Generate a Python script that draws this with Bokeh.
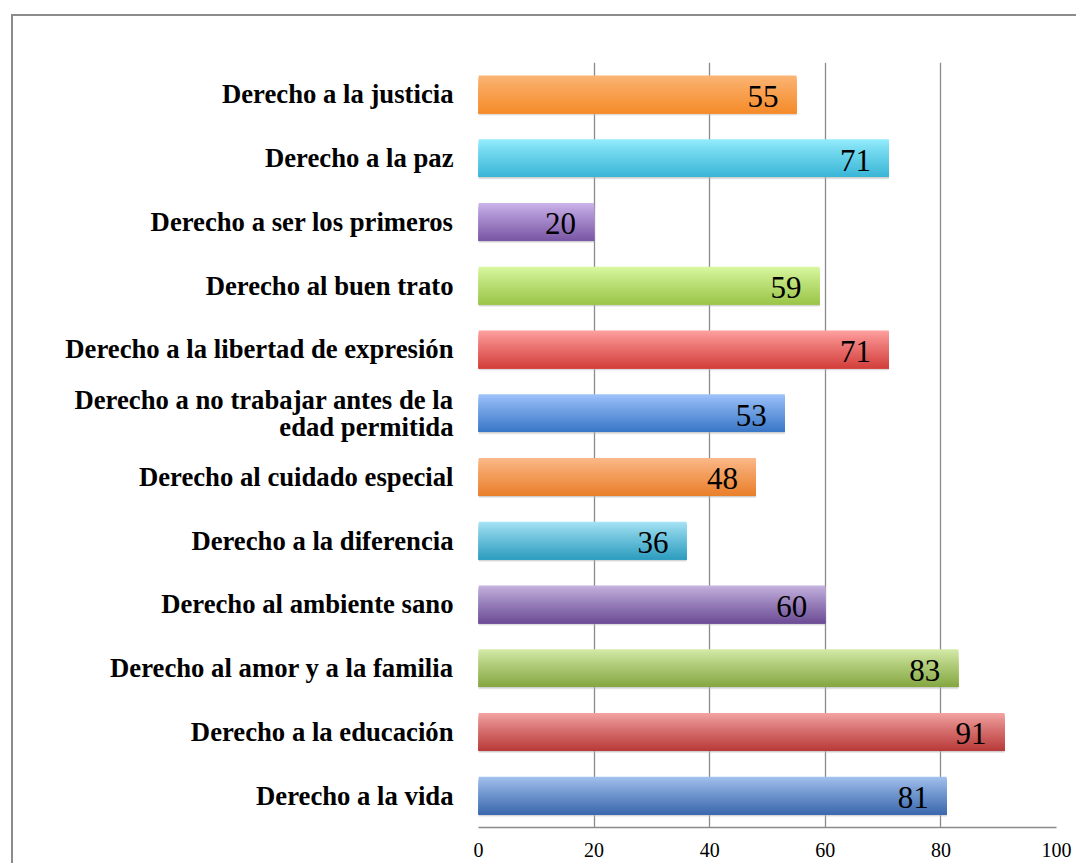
from bokeh.plotting import figure
from bokeh.models import ColumnDataSource, FactorRange, Range1d
from bokeh.transform import dodge
from bokeh.core.properties import value
from bokeh.embed import file_html
from bokeh.resources import INLINE

# ---- data (bottom to top) ----
categories = [
    "Derecho a la vida",
    "Derecho a la educación",
    "Derecho al amor y a la familia",
    "Derecho al ambiente sano",
    "Derecho a la diferencia",
    "Derecho al cuidado especial",
    "Derecho a no trabajar antes de la\nedad permitida",
    "Derecho a la libertad de expresión",
    "Derecho al buen trato",
    "Derecho a ser los primeros",
    "Derecho a la paz",
    "Derecho a la justicia",
]
values = [81, 91, 83, 60, 36, 48, 53, 71, 59, 20, 71, 55]
x_ticks = [0, 20, 40, 60, 80, 100]

# ---- style: gradient top / bottom colours per bar ----
top_colors = ["#A3C1EE", "#F2A3A2", "#D4EAA8", "#C4B2DE", "#A6E3F5", "#FBB98A",
              "#9EC3FA", "#FFA0A0", "#D9F7A0", "#CBB3EA", "#93ECFC", "#FBB575"]
bot_colors = ["#3D6AAE", "#B93C3A", "#86A843", "#6E4F97", "#2F9EC0", "#E9802C",
              "#3C78C8", "#D3413D", "#9BC64A", "#7A58A6", "#3BB6D7", "#F58C2C"]


def hex2rgb(h):
    h = h.lstrip("#")
    return tuple(int(h[i:i + 2], 16) for i in (0, 2, 4))


def mix(a, b, t):
    ra, rb = hex2rgb(a), hex2rgb(b)
    return "#%02x%02x%02x" % tuple(int(round(ra[i] + (rb[i] - ra[i]) * t)) for i in range(3))


BAR_H = 0.59
N = 30

data = dict(cat=categories, val=values, lab=[str(v) for v in values])
for i in range(N):
    t = i / (N - 1)  # 0 at top, 1 at bottom
    tt = t ** 0.9
    data["c%d" % i] = [mix(tc, bc, tt) for tc, bc in zip(top_colors, bot_colors)]
src = ColumnDataSource(data)

W, H = 1076, 863
p = figure(
    width=W, height=H,
    y_range=FactorRange(*categories),
    x_range=Range1d(0, 100),
    output_backend="svg", toolbar_location=None,
    min_border_left=478, min_border_right=W - 1056,
    min_border_top=62, min_border_bottom=H - 827,
    stylesheets=[":host::after { content: ''; position: absolute; left: 11px; top: 14px;"
                 " right: 0px; bottom: 0px; border-left: 2px solid #8c8c8c;"
                 " border-top: 2px solid #8c8c8c; pointer-events: none; }"],
)
p.outline_line_color = None
p.background_fill_color = "white"
p.border_fill_color = "white"

# grid
p.xgrid.ticker = x_ticks
p.xgrid.grid_line_color = "#8a8a8a"
p.xgrid.grid_line_width = 1.3
p.ygrid.grid_line_color = None

# shadow
p.hbar(y=dodge("cat", -0.035, range=p.y_range), right="val", left=0,
       height=BAR_H, source=src, fill_color="#bdbdbd", fill_alpha=0.35, line_color=None)
p.hbar(y=dodge("cat", -0.02, range=p.y_range), right="val", left=0,
       height=BAR_H, source=src, fill_color="#a0a0a0", fill_alpha=0.35, line_color=None)

# gradient bars: nested bars anchored at the bar bottom, progressively shorter
bottom = -BAR_H / 2
for i in range(N):
    hh = BAR_H * (1 - i / N)
    off = bottom + hh / 2
    p.hbar(y=dodge("cat", off, range=p.y_range), right="val", left=0,
           height=hh, source=src, fill_color="c%d" % i, line_color=None)

# value labels
p.text(x="val", y="cat", text="lab", source=src, x_offset=-18, y_offset=2,
       text_align="right", text_baseline="middle",
       text_font=value("Liberation Serif"), text_font_size="31px", text_color="black")

# axes
p.xaxis.ticker = x_ticks
p.xaxis.axis_line_color = "#8a8a8a"
p.xaxis.axis_line_width = 1.3
p.xaxis.major_tick_line_color = None
p.xaxis.minor_tick_line_color = None
p.xaxis.major_tick_out = 0
p.xaxis.major_label_standoff = 15
p.xaxis.major_label_text_font = "Liberation Serif"
p.xaxis.major_label_text_font_size = "20px"
p.xaxis.major_label_text_color = "black"

p.yaxis.axis_line_color = None
p.yaxis.major_tick_line_color = None
p.yaxis.minor_tick_line_color = None
p.yaxis.major_tick_out = 0
p.yaxis.major_label_standoff = 25
p.yaxis.major_label_text_font = "Liberation Serif"
p.yaxis.major_label_text_font_style = "bold"
p.yaxis.major_label_text_font_size = "26.7px"
p.yaxis.major_label_text_line_height = 0.9
p.yaxis.major_label_text_color = "black"

open("out.html", "w").write(file_html(p, INLINE))
